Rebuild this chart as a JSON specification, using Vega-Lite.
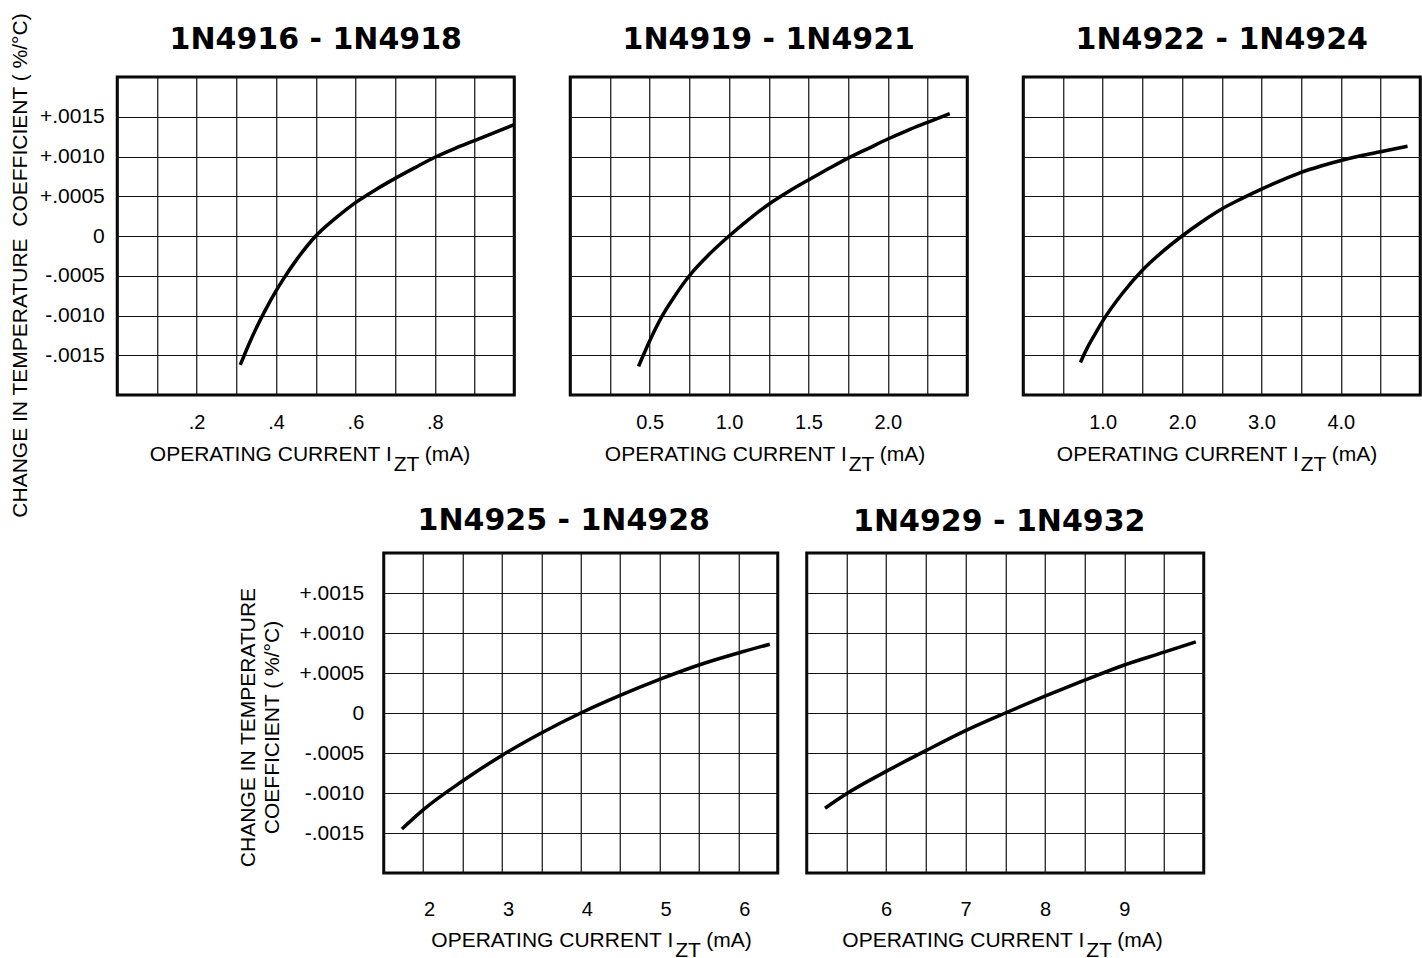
{
  "$schema": "https://vega.github.io/schema/vega-lite/v6.json",
  "background": "white",
  "padding": {"left": 9, "top": 12, "right": 0, "bottom": 0},
  "config": {
    "view": {"stroke": "black", "strokeWidth": 3},
    "font": "Liberation Sans"
  },
  "datasets": {
    "p1": [
      {"i": 0.31, "tc": -0.00162}, {"i": 0.33, "tc": -0.00138}, {"i": 0.35, "tc": -0.00116},
      {"i": 0.37, "tc": -0.00096}, {"i": 0.40, "tc": -0.00069}, {"i": 0.42, "tc": -0.00053},
      {"i": 0.45, "tc": -0.00031}, {"i": 0.50, "tc": 0.0}, {"i": 0.55, "tc": 0.000225},
      {"i": 0.60, "tc": 0.00042}, {"i": 0.65, "tc": 0.00058}, {"i": 0.70, "tc": 0.000725},
      {"i": 0.75, "tc": 0.00086}, {"i": 0.80, "tc": 0.00099}, {"i": 0.85, "tc": 0.0011},
      {"i": 0.90, "tc": 0.0012}, {"i": 0.95, "tc": 0.0013}, {"i": 1.0, "tc": 0.0014}
    ],
    "p2": [
      {"i": 0.43, "tc": -0.00164}, {"i": 0.46, "tc": -0.0015}, {"i": 0.5, "tc": -0.00132},
      {"i": 0.575, "tc": -0.00102}, {"i": 0.65, "tc": -0.00078}, {"i": 0.75, "tc": -0.0005},
      {"i": 0.875, "tc": -0.00023}, {"i": 1.0, "tc": 0.0}, {"i": 1.125, "tc": 0.00021},
      {"i": 1.25, "tc": 0.0004}, {"i": 1.375, "tc": 0.00056}, {"i": 1.5, "tc": 0.000705},
      {"i": 1.625, "tc": 0.000845}, {"i": 1.75, "tc": 0.00098}, {"i": 1.875, "tc": 0.0011},
      {"i": 2.0, "tc": 0.00122}, {"i": 2.125, "tc": 0.00133}, {"i": 2.25, "tc": 0.00143},
      {"i": 2.39, "tc": 0.00154}
    ],
    "p3": [
      {"i": 0.72, "tc": -0.00159}, {"i": 0.8, "tc": -0.00142}, {"i": 0.9, "tc": -0.00124},
      {"i": 1.0, "tc": -0.00107}, {"i": 1.25, "tc": -0.00072}, {"i": 1.5, "tc": -0.00043},
      {"i": 1.75, "tc": -0.0002}, {"i": 2.0, "tc": 0.0}, {"i": 2.25, "tc": 0.00018},
      {"i": 2.5, "tc": 0.00034}, {"i": 2.75, "tc": 0.00047}, {"i": 3.0, "tc": 0.00059},
      {"i": 3.25, "tc": 0.0007}, {"i": 3.5, "tc": 0.0008}, {"i": 3.75, "tc": 0.00088},
      {"i": 4.0, "tc": 0.00095}, {"i": 4.25, "tc": 0.00101}, {"i": 4.5, "tc": 0.00106},
      {"i": 4.84, "tc": 0.00113}
    ],
    "p4": [
      {"i": 1.73, "tc": -0.00145}, {"i": 2.0, "tc": -0.00121}, {"i": 2.5, "tc": -0.00085},
      {"i": 3.0, "tc": -0.00053}, {"i": 3.5, "tc": -0.00025}, {"i": 4.0, "tc": 0.0},
      {"i": 4.5, "tc": 0.00022}, {"i": 5.0, "tc": 0.00042}, {"i": 5.5, "tc": 0.0006},
      {"i": 6.0, "tc": 0.00075}, {"i": 6.4, "tc": 0.00086}
    ],
    "p5": [
      {"i": 5.23, "tc": -0.00119}, {"i": 5.5, "tc": -0.00101}, {"i": 6.0, "tc": -0.00073},
      {"i": 6.5, "tc": -0.00047}, {"i": 7.0, "tc": -0.00022}, {"i": 7.5, "tc": 0.0},
      {"i": 8.0, "tc": 0.00021}, {"i": 8.5, "tc": 0.00041}, {"i": 9.0, "tc": 0.0006},
      {"i": 9.5, "tc": 0.00076}, {"i": 9.9, "tc": 0.00089}
    ]
  },
  "vconcat": [
    {
      "title": {"text": "CHANGE IN TEMPERATURE\u00a0 COEFFICIENT ( %/°C)", "orient": "left", "anchor": "middle", "font": "Liberation Sans", "fontSize": 21, "fontWeight": "normal", "color": "black", "offset": 7, "dx": -16},
      "bounds": "flush",
      "spacing": 56,
      "hconcat": [
        {
          "width": 397, "height": 318,
          "title": {"text": "1N4916 - 1N4918", "font": "DejaVu Sans", "fontSize": 30, "fontWeight": "bold", "color": "black", "anchor": "middle", "frame": "group", "baseline": "alphabetic", "offset": -13},
          "data": {"name": "p1"},
          "layer": [
            {
              "mark": {"type": "line", "color": "black", "strokeWidth": 3.5, "interpolate": "monotone"},
              "encoding": {
                "x": {"field": "i", "type": "quantitative", "scale": {"domain": [0, 1], "nice": false, "zero": false},
                  "axis": {"values": [0, 0.1, 0.2, 0.3, 0.4, 0.5, 0.6, 0.7, 0.8, 0.9, 1], "grid": true, "gridColor": "#111111", "gridWidth": 1.2, "gridOpacity": 1, "ticks": false, "domain": false,
                    "labelExpr": "indexof([0.2, 0.4, 0.6, 0.8], datum.value) >= 0 ? replace(format(datum.value, '.1f'), '0.', '.') : ''",
                    "labelFont": "Liberation Sans", "labelFontSize": 20, "labelColor": "black", "labelPadding": 17, "labelOverlap": false, "labelFlush": false,
                    "title": "OPERATING CURRENT I", "titleFont": "Liberation Sans", "titleFontSize": 21, "titleFontWeight": "normal", "titleColor": "black", "titleX": 274, "titleY": 59, "titleAlign": "right", "titleBaseline": "middle"}},
                "y": {"field": "tc", "type": "quantitative", "scale": {"domain": [-0.002, 0.002], "nice": false, "zero": false},
                  "axis": {"values": [-0.002, -0.0015, -0.001, -0.0005, 0, 0.0005, 0.001, 0.0015, 0.002], "grid": true, "gridColor": "#111111", "gridWidth": 1.2, "gridOpacity": 1, "ticks": false, "domain": false,
                    "labelExpr": "abs(datum.value) > 0.0019 ? '' : datum.value == 0 ? '0' : (datum.value > 0 ? '+' : '-') + replace(format(abs(datum.value), '.4f'), '0.', '.')",
                    "labelFont": "Liberation Sans", "labelFontSize": 21, "labelColor": "black", "labelPadding": 13, "labelOverlap": false, "labelFlush": false, "title": null}}
              }
            },
            {
              "mark": {"type": "line", "opacity": 0},
              "encoding": {
                "x": {"field": "i", "type": "quantitative", "scale": {"domain": [0, 1], "nice": false, "zero": false},
                  "axis": {"orient": "bottom", "title": "ZT", "labels": false, "ticks": false, "domain": false, "grid": false, "titleFont": "Liberation Sans", "titleFontSize": 21, "titleFontWeight": "normal", "titleColor": "black", "titleX": 276, "titleY": 69, "titleAlign": "left", "titleBaseline": "middle"}},
                "y": {"field": "tc", "type": "quantitative", "scale": {"domain": [-0.002, 0.002], "nice": false, "zero": false},
                  "axis": {"orient": "right", "title": "(mA)", "labels": false, "ticks": false, "domain": false, "grid": false, "minExtent": 0, "titleFont": "Liberation Sans", "titleFontSize": 21, "titleFontWeight": "normal", "titleColor": "black", "titleAngle": 0, "titleX": -90, "titleY": 377, "titleAlign": "left", "titleBaseline": "middle"}}
              }
            }
          ],
          "resolve": {"axis": {"x": "independent", "y": "independent"}}
        },
        {
          "width": 397, "height": 318,
          "title": {"text": "1N4919 - 1N4921", "font": "DejaVu Sans", "fontSize": 30, "fontWeight": "bold", "color": "black", "anchor": "middle", "frame": "group", "baseline": "alphabetic", "offset": -2},
          "data": {"name": "p2"},
          "layer": [
            {
              "mark": {"type": "line", "color": "black", "strokeWidth": 3.5, "interpolate": "monotone"},
              "encoding": {
                "x": {"field": "i", "type": "quantitative", "scale": {"domain": [0, 2.5], "nice": false, "zero": false},
                  "axis": {"values": [0, 0.25, 0.5, 0.75, 1, 1.25, 1.5, 1.75, 2, 2.25, 2.5], "grid": true, "gridColor": "#111111", "gridWidth": 1.2, "gridOpacity": 1, "ticks": false, "domain": false,
                    "labelExpr": "indexof([0.5, 1, 1.5, 2], datum.value) >= 0 ? format(datum.value, '.1f') : ''",
                    "labelFont": "Liberation Sans", "labelFontSize": 20, "labelColor": "black", "labelPadding": 17, "labelOverlap": false, "labelFlush": false,
                    "title": "OPERATING CURRENT I", "titleFont": "Liberation Sans", "titleFontSize": 21, "titleFontWeight": "normal", "titleColor": "black", "titleX": 276, "titleY": 59, "titleAlign": "right", "titleBaseline": "middle"}},
                "y": {"field": "tc", "type": "quantitative", "scale": {"domain": [-0.002, 0.002], "nice": false, "zero": false},
                  "axis": {"values": [-0.002, -0.0015, -0.001, -0.0005, 0, 0.0005, 0.001, 0.0015, 0.002], "grid": true, "gridColor": "#111111", "gridWidth": 1.2, "gridOpacity": 1, "ticks": false, "domain": false, "labels": false, "title": null}}
              }
            },
            {
              "mark": {"type": "line", "opacity": 0},
              "encoding": {
                "x": {"field": "i", "type": "quantitative", "scale": {"domain": [0, 2.5], "nice": false, "zero": false},
                  "axis": {"orient": "bottom", "title": "ZT", "labels": false, "ticks": false, "domain": false, "grid": false, "titleFont": "Liberation Sans", "titleFontSize": 21, "titleFontWeight": "normal", "titleColor": "black", "titleX": 278, "titleY": 69, "titleAlign": "left", "titleBaseline": "middle"}},
                "y": {"field": "tc", "type": "quantitative", "scale": {"domain": [-0.002, 0.002], "nice": false, "zero": false},
                  "axis": {"orient": "right", "title": "(mA)", "labels": false, "ticks": false, "domain": false, "grid": false, "minExtent": 0, "titleFont": "Liberation Sans", "titleFontSize": 21, "titleFontWeight": "normal", "titleColor": "black", "titleAngle": 0, "titleX": -88, "titleY": 377, "titleAlign": "left", "titleBaseline": "middle"}}
              }
            }
          ],
          "resolve": {"axis": {"x": "independent", "y": "independent"}}
        },
        {
          "width": 397, "height": 318,
          "title": {"text": "1N4922 - 1N4924", "font": "DejaVu Sans", "fontSize": 30, "fontWeight": "bold", "color": "black", "anchor": "middle", "frame": "group", "baseline": "alphabetic", "offset": -2},
          "data": {"name": "p3"},
          "layer": [
            {
              "mark": {"type": "line", "color": "black", "strokeWidth": 3.5, "interpolate": "monotone"},
              "encoding": {
                "x": {"field": "i", "type": "quantitative", "scale": {"domain": [0, 5], "nice": false, "zero": false},
                  "axis": {"values": [0, 0.5, 1, 1.5, 2, 2.5, 3, 3.5, 4, 4.5, 5], "grid": true, "gridColor": "#111111", "gridWidth": 1.2, "gridOpacity": 1, "ticks": false, "domain": false,
                    "labelExpr": "indexof([1, 2, 3, 4], datum.value) >= 0 ? format(datum.value, '.1f') : ''",
                    "labelFont": "Liberation Sans", "labelFontSize": 20, "labelColor": "black", "labelPadding": 17, "labelOverlap": false, "labelFlush": false,
                    "title": "OPERATING CURRENT I", "titleFont": "Liberation Sans", "titleFontSize": 21, "titleFontWeight": "normal", "titleColor": "black", "titleX": 275, "titleY": 59, "titleAlign": "right", "titleBaseline": "middle"}},
                "y": {"field": "tc", "type": "quantitative", "scale": {"domain": [-0.002, 0.002], "nice": false, "zero": false},
                  "axis": {"values": [-0.002, -0.0015, -0.001, -0.0005, 0, 0.0005, 0.001, 0.0015, 0.002], "grid": true, "gridColor": "#111111", "gridWidth": 1.2, "gridOpacity": 1, "ticks": false, "domain": false, "labels": false, "title": null}}
              }
            },
            {
              "mark": {"type": "line", "opacity": 0},
              "encoding": {
                "x": {"field": "i", "type": "quantitative", "scale": {"domain": [0, 5], "nice": false, "zero": false},
                  "axis": {"orient": "bottom", "title": "ZT", "labels": false, "ticks": false, "domain": false, "grid": false, "titleFont": "Liberation Sans", "titleFontSize": 21, "titleFontWeight": "normal", "titleColor": "black", "titleX": 277, "titleY": 69, "titleAlign": "left", "titleBaseline": "middle"}},
                "y": {"field": "tc", "type": "quantitative", "scale": {"domain": [-0.002, 0.002], "nice": false, "zero": false},
                  "axis": {"orient": "right", "title": "(mA)", "labels": false, "ticks": false, "domain": false, "grid": false, "minExtent": 50, "titleFont": "Liberation Sans", "titleFontSize": 21, "titleFontWeight": "normal", "titleColor": "black", "titleAngle": 0, "titleX": -89, "titleY": 377, "titleAlign": "left", "titleBaseline": "middle"}}
              }
            }
          ],
          "resolve": {"axis": {"x": "independent", "y": "independent"}}
        }
      ]
    },
    {
      "bounds": "flush",
      "spacing": 29,
      "hconcat": [
        {
          "width": 394, "height": 320,
          "title": {"text": "1N4925 - 1N4928", "font": "DejaVu Sans", "fontSize": 30, "fontWeight": "bold", "color": "black", "anchor": "middle", "frame": "group", "baseline": "alphabetic", "offset": -18, "dx": -17},
          "data": {"name": "p4"},
          "layer": [
            {
              "mark": {"type": "line", "color": "black", "strokeWidth": 3.5, "interpolate": "monotone"},
              "encoding": {
                "x": {"field": "i", "type": "quantitative", "scale": {"domain": [1.5, 6.5], "nice": false, "zero": false},
                  "axis": {"values": [1.5, 2, 2.5, 3, 3.5, 4, 4.5, 5, 5.5, 6, 6.5], "grid": true, "gridColor": "#111111", "gridWidth": 1.2, "gridOpacity": 1, "ticks": false, "domain": false,
                    "labelExpr": "indexof([2, 3, 4, 5, 6], datum.value) >= 0 ? format(datum.value, 'd') : ''",
                    "labelFont": "Liberation Sans", "labelFontSize": 20, "labelColor": "black", "labelPadding": 26, "labelOffset": 6, "labelOverlap": false, "labelFlush": false,
                    "title": "OPERATING CURRENT I", "titleFont": "Liberation Sans", "titleFontSize": 21, "titleFontWeight": "normal", "titleColor": "black", "titleX": 289, "titleY": 67, "titleAlign": "right", "titleBaseline": "middle"}},
                "y": {"field": "tc", "type": "quantitative", "scale": {"domain": [-0.002, 0.002], "nice": false, "zero": false},
                  "axis": {"values": [-0.002, -0.0015, -0.001, -0.0005, 0, 0.0005, 0.001, 0.0015, 0.002], "grid": true, "gridColor": "#111111", "gridWidth": 1.2, "gridOpacity": 1, "ticks": false, "domain": false,
                    "labelExpr": "abs(datum.value) > 0.0019 ? '' : datum.value == 0 ? '0' : (datum.value > 0 ? '+' : '-') + replace(format(abs(datum.value), '.4f'), '0.', '.')",
                    "labelFont": "Liberation Sans", "labelFontSize": 21, "labelColor": "black", "labelPadding": 20, "labelOverlap": false, "labelFlush": false,
                    "title": ["CHANGE IN TEMPERATURE", "COEFFICIENT ( %/°C)"], "titleFont": "Liberation Sans", "titleFontSize": 21, "titleFontWeight": "normal", "titleColor": "black", "titleX": -135, "titleY": 174, "titleAngle": 270, "titleAlign": "center", "titleBaseline": "middle", "titleLineHeight": 24}}
              }
            },
            {
              "mark": {"type": "line", "opacity": 0},
              "encoding": {
                "x": {"field": "i", "type": "quantitative", "scale": {"domain": [1.5, 6.5], "nice": false, "zero": false},
                  "axis": {"orient": "bottom", "title": "ZT", "labels": false, "ticks": false, "domain": false, "grid": false, "titleFont": "Liberation Sans", "titleFontSize": 21, "titleFontWeight": "normal", "titleColor": "black", "titleX": 291, "titleY": 77, "titleAlign": "left", "titleBaseline": "middle"}},
                "y": {"field": "tc", "type": "quantitative", "scale": {"domain": [-0.002, 0.002], "nice": false, "zero": false},
                  "axis": {"orient": "right", "title": "(mA)", "labels": false, "ticks": false, "domain": false, "grid": false, "minExtent": 0, "titleFont": "Liberation Sans", "titleFontSize": 21, "titleFontWeight": "normal", "titleColor": "black", "titleAngle": 0, "titleX": -72, "titleY": 387, "titleAlign": "left", "titleBaseline": "middle"}}
              }
            }
          ],
          "resolve": {"axis": {"x": "independent", "y": "independent"}}
        },
        {
          "width": 397, "height": 320,
          "title": {"text": "1N4929 - 1N4932", "font": "DejaVu Sans", "fontSize": 30, "fontWeight": "bold", "color": "black", "anchor": "middle", "frame": "group", "baseline": "alphabetic", "offset": -8, "dx": -6},
          "data": {"name": "p5"},
          "layer": [
            {
              "mark": {"type": "line", "color": "black", "strokeWidth": 3.5, "interpolate": "monotone"},
              "encoding": {
                "x": {"field": "i", "type": "quantitative", "scale": {"domain": [5, 10], "nice": false, "zero": false},
                  "axis": {"values": [5, 5.5, 6, 6.5, 7, 7.5, 8, 8.5, 9, 9.5, 10], "grid": true, "gridColor": "#111111", "gridWidth": 1.2, "gridOpacity": 1, "ticks": false, "domain": false,
                    "labelExpr": "indexof([6, 7, 8, 9], datum.value) >= 0 ? format(datum.value, 'd') : ''",
                    "labelFont": "Liberation Sans", "labelFontSize": 20, "labelColor": "black", "labelPadding": 26, "labelOverlap": false, "labelFlush": false,
                    "title": "OPERATING CURRENT I", "titleFont": "Liberation Sans", "titleFontSize": 21, "titleFontWeight": "normal", "titleColor": "black", "titleX": 277, "titleY": 67, "titleAlign": "right", "titleBaseline": "middle"}},
                "y": {"field": "tc", "type": "quantitative", "scale": {"domain": [-0.002, 0.002], "nice": false, "zero": false},
                  "axis": {"values": [-0.002, -0.0015, -0.001, -0.0005, 0, 0.0005, 0.001, 0.0015, 0.002], "grid": true, "gridColor": "#111111", "gridWidth": 1.2, "gridOpacity": 1, "ticks": false, "domain": false, "labels": false, "title": null}}
              }
            },
            {
              "mark": {"type": "line", "opacity": 0},
              "encoding": {
                "x": {"field": "i", "type": "quantitative", "scale": {"domain": [5, 10], "nice": false, "zero": false},
                  "axis": {"orient": "bottom", "title": "ZT", "labels": false, "ticks": false, "domain": false, "grid": false, "titleFont": "Liberation Sans", "titleFontSize": 21, "titleFontWeight": "normal", "titleColor": "black", "titleX": 279, "titleY": 77, "titleAlign": "left", "titleBaseline": "middle"}},
                "y": {"field": "tc", "type": "quantitative", "scale": {"domain": [-0.002, 0.002], "nice": false, "zero": false},
                  "axis": {"orient": "right", "title": "(mA)", "labels": false, "ticks": false, "domain": false, "grid": false, "minExtent": 0, "titleFont": "Liberation Sans", "titleFontSize": 21, "titleFontWeight": "normal", "titleColor": "black", "titleAngle": 0, "titleX": -87, "titleY": 387, "titleAlign": "left", "titleBaseline": "middle"}}
              }
            }
          ],
          "resolve": {"axis": {"x": "independent", "y": "independent"}}
        }
      ]
    }
  ],
  "spacing": -15,
  "bounds": "full",
  "center": true
}
